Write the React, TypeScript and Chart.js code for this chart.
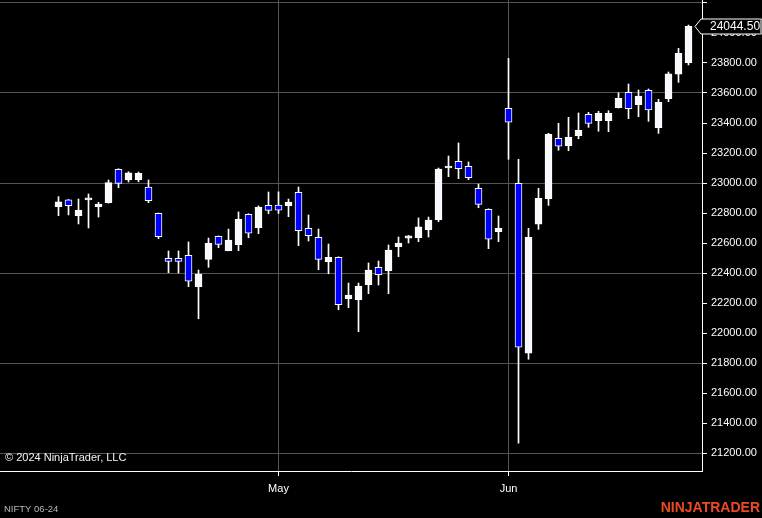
import React, { useEffect, useRef } from 'react';
import { Chart, registerables } from 'chart.js';

Chart.register(...registerables);

// Daily OHLC, one entry per trading session (index 0 .. 63)
const opens = [
  22842, 22887, 22782, 22887, 22842, 22869, 23091, 23020, 23022, 22973,
  22798, 22498, 22497, 22518, 22309, 22491, 22644, 22549, 22589, 22791,
  22702, 22851, 22852, 22849, 22938, 22698, 22638, 22475, 22505, 22229,
  22222, 22322, 22438, 22416, 22576, 22633, 22636, 22689, 22756, 23100,
  23145, 23111, 22965, 22825, 22675, 23498, 22998, 21865, 22725, 22895,
  23298, 23249, 23315, 23458, 23415, 23415, 23502, 23605, 23522, 23618,
  23369, 23562, 23725, 23802,
];
const highs = [
  22909, 22890, 22893, 22927, 22871, 23020, 23095, 23075, 23073, 23020,
  22800, 22547, 22547, 22607, 22420, 22633, 22647, 22693, 22807, 22795,
  22847, 22940, 22941, 22893, 22973, 22787, 22693, 22593, 22508, 22333,
  22333, 22467, 22480, 22587, 22640, 22650, 22767, 22773, 23100, 23180,
  23267, 23140, 22993, 22828, 22780, 23831, 23158, 22698, 22965, 23331,
  23398, 23438, 23467, 23471, 23478, 23482, 23602, 23660, 23620, 23627,
  23558, 23740, 23898, 24053,
];
const lows = [
  22782, 22787, 22727, 22700, 22773, 22866, 22969, 23007, 23008, 22869,
  22629, 22402, 22400, 22309, 22095, 22438, 22569, 22548, 22549, 22635,
  22662, 22795, 22797, 22775, 22582, 22613, 22422, 22395, 22155, 22169,
  22009, 22262, 22320, 22262, 22509, 22600, 22609, 22640, 22742, 23042,
  23029, 23022, 22835, 22562, 22609, 23158, 21265, 21825, 22691, 22851,
  23218, 23215, 23295, 23371, 23345, 23342, 23500, 23429, 23442, 23411,
  23331, 23542, 23671, 23787,
];
const closes = [
  22875, 22849, 22820, 22900, 22860, 23002, 22998, 23067, 23065, 22882,
  22642, 22478, 22477, 22345, 22393, 22598, 22591, 22620, 22760, 22665,
  22840, 22818, 22819, 22873, 22682, 22649, 22491, 22505, 22189, 22253,
  22313, 22420, 22389, 22553, 22600, 22647, 22707, 22753, 23093, 23108,
  23096, 23035, 22858, 22625, 22698, 23405, 21905, 22638, 22898, 23325,
  23245, 23305, 23351, 23398, 23465, 23465, 23565, 23495, 23580, 23487,
  23538, 23727, 23865, 24044.5,
];

const monthTickIndex = [22, 45];
const monthTickLabels = ['May', 'Jun'];
const priceTicks = [
  21200, 21400, 21600, 21800, 22000, 22200, 22400, 22600, 22800, 23000,
  23200, 23400, 23600, 23800, 24000, 24200,
];
const instrumentLabel = 'NIFTY 06-24';
const copyrightLabel = '\u00A9 2024 NinjaTrader, LLC';
const brandLabel = 'NINJATRADER';

const FONT = 'Arial, "Liberation Sans", sans-serif';

export default function App() {
  const ref = useRef<HTMLCanvasElement | null>(null);

  useEffect(() => {
    if (!ref.current) return;
    const idx = opens.map((_, i) => i);
    const bodies = idx.map((i) => ({ x: i, y: [opens[i], closes[i]] }));
    const wicks = idx.map((i) => ({ x: i, y: [lows[i], highs[i]] }));
    const upFlags = idx.map((i) => closes[i] >= opens[i]);

    const overlay = {
      id: 'overlay',
      afterDraw(chart: any) {
        const ctx = chart.ctx as CanvasRenderingContext2D;
        const yS = chart.scales.y;
        ctx.save();
        // copyright
        ctx.font = `11px ${FONT}`;
        ctx.fillStyle = '#f2f2f2';
        ctx.textAlign = 'left';
        ctx.textBaseline = 'middle';
        ctx.fillText(copyrightLabel, 5, 458);

        // instrument name
        ctx.font = `9.5px ${FONT}`;
        ctx.fillStyle = '#b8b8b8';
        ctx.fillText(instrumentLabel, 4, 509);

        // brand
        ctx.font = `bold 14px ${FONT}`;
        ctx.fillStyle = '#ee4a22';
        ctx.textAlign = 'right';
        ctx.fillText(brandLabel, 760, 508);

        // last price marker
        const last = closes[closes.length - 1];
        const py = Math.round(yS.getPixelForValue(last)) + 0.5;
        const left = chart.chartArea.right - 1;
        ctx.beginPath();
        ctx.moveTo(left - 6, py);
        ctx.lineTo(left, py - 7.5);
        ctx.lineTo(761.5, py - 7.5);
        ctx.lineTo(761.5, py + 7.5);
        ctx.lineTo(left, py + 7.5);
        ctx.closePath();
        ctx.fillStyle = '#000000';
        ctx.fill();
        ctx.strokeStyle = '#ffffff';
        ctx.lineWidth = 1;
        ctx.stroke();
        ctx.fillStyle = '#8a8a8a';
        ctx.fillRect(760, py - 7, 2, 14);
        ctx.font = `12px ${FONT}`;
        ctx.fillStyle = '#ffffff';
        ctx.textAlign = 'left';
        ctx.textBaseline = 'middle';
        ctx.fillText(last.toFixed(2), 710, py + 0.5);
        ctx.restore();
      },
    };

    const chart = new Chart(ref.current, {
      type: 'bar',
      data: {
        datasets: [
          {
            data: bodies as any,
            backgroundColor: upFlags.map((u) => (u ? '#f8f8ff' : '#0000ff')),
            borderColor: '#ffffff',
            borderWidth: 1,
            borderSkipped: false,
            barThickness: 7,
            grouped: false,
            minBarLength: 2,
          } as any,
          {
            data: wicks as any,
            backgroundColor: '#ffffff',
            borderWidth: 0,
            barThickness: 1,
            grouped: false,
          } as any,
        ],
      },
      options: {
        animation: false,
        responsive: false,
        maintainAspectRatio: false,
        layout: { padding: 0 },
        plugins: {
          legend: { display: false },
          tooltip: { enabled: false },
        },
        scales: {
          x: {
            type: 'linear',
            position: 'bottom',
            min: -5.85,
            max: 64.35,
            offset: false,
            afterBuildTicks: (s: any) => {
              s.ticks = monthTickIndex.map((v) => ({ value: v }));
            },
            afterFit: (s: any) => {
              s.height = 47;
              s.paddingLeft = 0;
              s.paddingRight = 0;
            },
            ticks: {
              autoSkip: false,
              maxRotation: 0,
              color: '#ffffff',
              font: { family: FONT, size: 11 },
              padding: 6,
              callback: (v: any) => {
                const k = monthTickIndex.indexOf(Number(v));
                return k >= 0 ? monthTickLabels[k] : '';
              },
            },
            grid: {
              offset: false,
              color: '#555555',
              tickColor: '#ffffff',
              tickLength: 5,
              drawTicks: true,
            },
            border: { display: true, color: '#ffffff', width: 1 },
          },
          y: {
            type: 'linear',
            position: 'right',
            min: 21080,
            max: 24220,
            afterBuildTicks: (s: any) => {
              s.ticks = priceTicks.map((v) => ({ value: v }));
            },
            afterFit: (s: any) => {
              s.width = 60;
              s.paddingTop = 0;
              s.paddingBottom = 0;
            },
            ticks: {
              autoSkip: false,
              color: '#ffffff',
              font: { family: FONT, size: 11 },
              padding: 4,
              callback: (v: any) => (Number(v) > 24100 ? '' : Number(v).toFixed(2)),
            },
            grid: {
              offset: false,
              color: (c: any) =>
                c.tick && Math.round(c.tick.value) % 600 === 200 ? '#555555' : 'rgba(0,0,0,0)',
              tickColor: '#ffffff',
              tickLength: 5,
              drawTicks: true,
            },
            border: { display: true, color: '#ffffff', width: 1 },
          },
        },
      } as any,
      plugins: [overlay],
    });
    return () => chart.destroy();
  }, []);

  return (
    <div
      style={{
        position: 'fixed',
        left: 0,
        top: 0,
        width: 762,
        height: 518,
        background: '#000000',
      }}
    >
      <canvas ref={ref} width={762} height={518} style={{ display: 'block' }} />
    </div>
  );
}
